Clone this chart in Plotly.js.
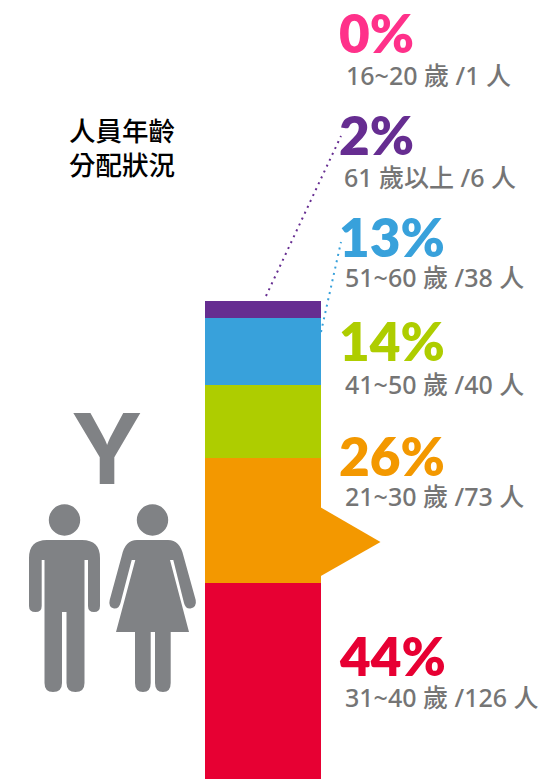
<!DOCTYPE html>
<html><head><meta charset="utf-8">
<script src="https://cdn.plot.ly/plotly-3.0.1.min.js"></script>
<style>html,body{margin:0;padding:0;background:#fff;overflow:hidden}#c{width:545px;height:779px}</style>
</head><body><div id="c"></div>
<script>
// Data, bottom of the stack first
var ageGroups = ['31~40 歲','21~30 歲','41~50 歲','51~60 歲','61 歲以上','16~20 歲'];
var people    = [126,73,40,38,6,1];
var percents  = [44,26,14,13,2,0];
var barHeights= [41,26.15,15.27,14.02,3.56,0];   // drawn height of each block
var colors    = ['#E70033','#F39800','#AECD00','#38A1DB','#662D91','#FF318A'];
var titleLines= ['人員年齡','分配狀況'];

// Layout helpers (pixel positions of the annotations and pictograms)
var W=545,H=779;
function px(x){return x/W;} function py(y){return 1-y/H;}
function path(s){ // converts "x y" pixel pairs in a path to paper fractions
  return s.replace(/(-?[\d.]+) (-?[\d.]+)/g,function(m,a,b){return px(+a)+' '+py(+b);});
}
var pctY=[655,455,340,236,135,32], subY=[697,496,384,277,177,75], subX=[344,344,344,344,343,345];
var PCT={family:'Lato,"Noto Sans",sans-serif',size:53,weight:800};
var SUB={family:'"Noto Sans","Noto Sans CJK TC",sans-serif',size:25,color:'#757575',weight:500};

var traces=barHeights.map(function(v,i){
  return {type:'bar',x:['age'],y:[v],name:ageGroups[i],marker:{color:colors[i],line:{width:0}},hoverinfo:'skip'};
});

var ann=[];
ageGroups.forEach(function(g,i){
  ann.push({xref:'paper',yref:'paper',x:px(338),y:py(pctY[i]),xanchor:'left',yanchor:'middle',showarrow:false,
    borderpad:0,text:percents[i]+'%',font:Object.assign({},PCT,{color:colors[i]})});
  ann.push({xref:'paper',yref:'paper',x:px(subX[i]),y:py(subY[i]),xanchor:'left',yanchor:'middle',showarrow:false,
    borderpad:0,text:g+' /'+people[i]+' 人',font:SUB});
});
ann.push({xref:'paper',yref:'paper',x:px(122),y:py(146.5),xanchor:'center',yanchor:'middle',showarrow:false,
  text:titleLines.join('<br>'),align:'center',font:{family:'"Noto Sans CJK TC",sans-serif',size:26.5,color:'#000',weight:500}});
ann.push({xref:'paper',yref:'paper',x:px(106.5),y:py(448),xanchor:'center',yanchor:'middle',showarrow:false,
  text:'Y',font:{family:'Inter,"DejaVu Sans",sans-serif',size:98,color:'#808285',weight:700}});

var man='M29 558 Q29 540 47 540 L82 540 Q100 540 100 558 L100 606 Q100 612 94 612 Q88 612 88 606 L88 560 L84.5 560 L84.5 683 Q84.5 692 75.5 692 Q66.5 692 66.5 683 L66.5 612 L62 612 L62 683 Q62 692 53 692 Q44.5 692 44.5 683 L44.5 560 L41.7 560 L41.7 606 Q41.7 612 35.5 612 Q29 612 29 606 Z';
var woman='M121.7 556 Q125 540 137 540 L168 540 Q180 540 183.5 556 L195.7 600 Q197 607 190.5 608.5 Q185.5 609 184 603 L173.3 560 L170 560 L189 632 L170.7 632 L170.7 683 Q170.7 692 163 692 Q155 692 155 683 L155 632 L150.7 632 L150.7 683 Q150.7 692 143 692 Q135 692 135 683 L135 632 L116 632 L135.3 560 L131.7 560 L120.5 603 Q119 609 114 608.5 Q108 607 109.7 600 Z';
var GREY='#808285';
function blob(d,c){return {type:'path',xref:'paper',yref:'paper',path:path(d),fillcolor:c,line:{width:0}};}
function head(cx,cy,r){return {type:'circle',xref:'paper',yref:'paper',x0:px(cx-r),x1:px(cx+r),y0:py(cy+r),y1:py(cy-r),fillcolor:GREY,line:{width:0}};}
function dotted(x0,y0,x1,y1,c){return {type:'line',xref:'paper',yref:'paper',x0:px(x0),y0:py(y0),x1:px(x1),y1:py(y1),line:{color:c,width:2,dash:'2px,4.5px'}};}

var shapes=[
  blob(man,GREY),blob(woman,GREY),head(64.5,520,15.7),head(152.5,520,15.7),
  blob('M320 507 L380.5 542 L320 576.5 Z',colors[1]),
  dotted(266,296,341,136,colors[4]),
  dotted(321,332,341,242,colors[3])
];

Plotly.newPlot('c',traces,{
  width:W,height:H,margin:{l:0,r:0,t:0,b:0,pad:0},paper_bgcolor:'#fff',plot_bgcolor:'#fff',
  barmode:'stack',bargap:0,showlegend:false,
  xaxis:{domain:[205/W,321/W],visible:false,fixedrange:true},
  yaxis:{domain:[0,478/H],range:[0,100],visible:false,fixedrange:true},
  shapes:shapes,annotations:ann
},{displayModeBar:false,staticPlot:true});
</script></body></html>
